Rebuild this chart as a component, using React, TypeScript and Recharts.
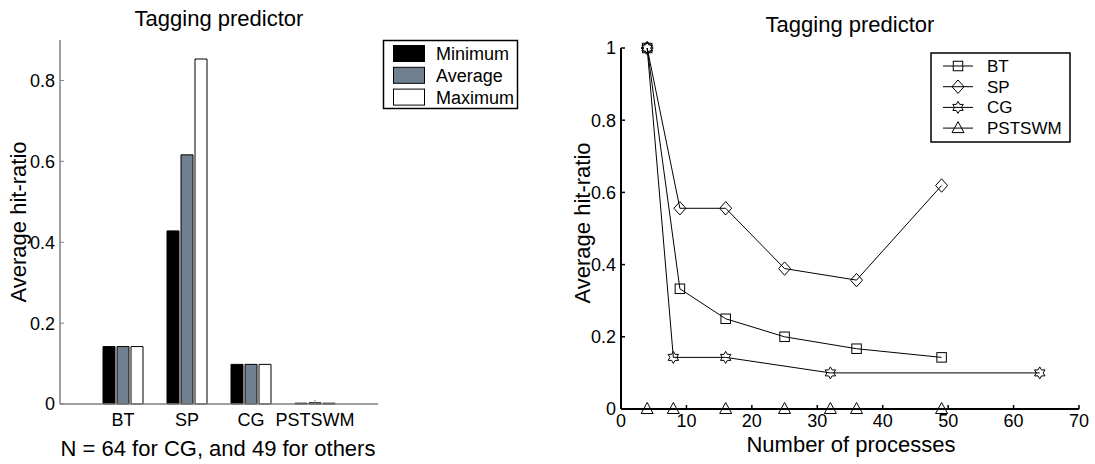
import React from 'react';
import { BarChart, Bar, XAxis, YAxis, LineChart, Line } from 'recharts';

// ---------- Left chart data (bar) ----------
const barCategories = ['BT', 'SP', 'CG', 'PSTSWM'];
const minimumValues = [0.142, 0.428, 0.098, 0.002];
const averageValues = [0.142, 0.616, 0.098, 0.003];
const maximumValues = [0.142, 0.853, 0.098, 0.002];
const barSeriesNames = ['Minimum', 'Average', 'Maximum'];
const barSeriesColors = ['#000000', '#708090', '#ffffff'];
const barYTicks = [0, 0.2, 0.4, 0.6, 0.8];

// ---------- Right chart data (lines) ----------
const btX = [4, 9, 16, 25, 36, 49];
const btY = [1, 0.333, 0.25, 0.2, 0.167, 0.143];
const spX = [4, 9, 16, 25, 36, 49];
const spY = [1, 0.556, 0.556, 0.389, 0.357, 0.619];
const cgX = [4, 8, 16, 32, 64];
const cgY = [1, 0.143, 0.143, 0.1, 0.1];
const pstX = [4, 8, 16, 25, 32, 36, 49];
const pstY = [0, 0, 0, 0, 0, 0, 0];
const lineSeriesNames = ['BT', 'SP', 'CG', 'PSTSWM'];
const lineSeriesShapes = ['square', 'diamond', 'hexagram', 'triangle'];
const lineXTicks = [0, 10, 20, 30, 40, 50, 60, 70];
const lineYTicks = [0, 0.2, 0.4, 0.6, 0.8, 1];

const titleText = 'Tagging predictor';
const yLabelText = 'Average hit-ratio';
const leftXLabelText = 'N = 64 for CG, and 49 for others';
const rightXLabelText = 'Number of processes';

const barData = barCategories.map((name, i) => ({
  name,
  min: minimumValues[i],
  avg: averageValues[i],
  max: maximumValues[i],
}));
const zip = (xs: number[], ys: number[]) => xs.map((x, i) => ({ x, y: ys[i] }));
const lineData = [zip(btX, btY), zip(spX, spY), zip(cgX, cgY), zip(pstX, pstY)];

const FONT = "'Liberation Sans', Arial, Helvetica, sans-serif";
const TICK_FS = 18;

const fmt = (v: number) => (v === 0 ? '0' : v === 1 ? '1' : v.toFixed(1));

function Marker({ shape, cx, cy }: { shape: string; cx: number; cy: number }) {
  const common = { fill: 'none', stroke: '#000', strokeWidth: 1 };
  if (shape === 'square') {
    return <rect x={cx - 4.75} y={cy - 4.75} width={9.5} height={9.5} {...common} />;
  }
  if (shape === 'diamond') {
    const pts = `${cx},${cy - 6.7} ${cx + 6},${cy} ${cx},${cy + 6.7} ${cx - 6},${cy}`;
    return <polygon points={pts} {...common} />;
  }
  if (shape === 'hexagram') {
    const ro = 6;
    const ri = ro / Math.sqrt(3);
    const pts: string[] = [];
    for (let k = 0; k < 12; k++) {
      const a = ((-90 + 30 * k) * Math.PI) / 180;
      const r = k % 2 === 0 ? ro : ri;
      pts.push(`${cx + r * Math.cos(a)},${cy + r * Math.sin(a)}`);
    }
    return <polygon points={pts.join(' ')} {...common} />;
  }
  const pts = `${cx},${cy - 6.5} ${cx + 6},${cy + 4.5} ${cx - 6},${cy + 4.5}`;
  return <polygon points={pts} {...common} />;
}

const makeDot = (shape: string, name: string) => (props: any) => {
  const { cx, cy, index } = props;
  return (
    <g key={`${name}-${index}`}>
      <Marker shape={shape} cx={cx} cy={cy} />
    </g>
  );
};

const tickStyle = { fill: '#000', fontSize: TICK_FS, fontFamily: FONT };

export default function App() {
  return (
    <div
      style={{
        position: 'absolute',
        left: 0,
        top: 0,
        width: 1095,
        height: 464,
        background: '#fff',
        fontFamily: FONT,
        overflow: 'hidden',
      }}
    >
      <div style={{ position: 'absolute', left: 0, top: 0 }}>
        <BarChart
          width={540}
          height={464}
          data={barData}
          margin={{ top: 40, right: 162, bottom: 30, left: 0 }}
          barSize={12}
          barGap={2}
          style={{ fontFamily: FONT }}
        >
          <XAxis
            dataKey="name"
            height={30}
            interval={0}
            padding={{ left: 31, right: 31 }}
            axisLine={{ stroke: '#808080', strokeWidth: 1.5 }}
            tickLine={{ stroke: '#808080' }}
            tickSize={-4}
            tickMargin={13}
            fontSize={TICK_FS}
            tick={tickStyle}
          />
          <YAxis
            width={60}
            domain={[0, 0.9]}
            ticks={barYTicks}
            axisLine={{ stroke: '#808080', strokeWidth: 1.5 }}
            tickLine={{ stroke: '#808080' }}
            tickSize={-4}
            tickMargin={9}
            tickFormatter={fmt}
            fontSize={TICK_FS}
            tick={tickStyle}
          />
          <Bar dataKey="min" name={barSeriesNames[0]} fill={barSeriesColors[0]} stroke="#000" strokeWidth={1} isAnimationActive={false} />
          <Bar dataKey="avg" name={barSeriesNames[1]} fill={barSeriesColors[1]} stroke="#000" strokeWidth={1} isAnimationActive={false} />
          <Bar dataKey="max" name={barSeriesNames[2]} fill={barSeriesColors[2]} stroke="#000" strokeWidth={1} isAnimationActive={false} />
        </BarChart>
      </div>

      <div style={{ position: 'absolute', left: 560, top: 0 }}>
        <LineChart width={535} height={464} margin={{ top: 48, right: 16, bottom: 25, left: 0 }} style={{ fontFamily: FONT }}>
          <XAxis
            type="number"
            dataKey="x"
            domain={[0, 70]}
            ticks={lineXTicks}
            height={30}
            axisLine={{ stroke: '#000', strokeWidth: 2 }}
            tickLine={{ stroke: '#000', strokeWidth: 1.5 }}
            tickSize={-4}
            tickMargin={9}
            fontSize={TICK_FS}
            tick={tickStyle}
          />
          <YAxis
            type="number"
            width={61}
            domain={[0, 1]}
            ticks={lineYTicks}
            axisLine={{ stroke: '#000', strokeWidth: 2 }}
            tickLine={{ stroke: '#000', strokeWidth: 1.5 }}
            tickSize={-4}
            tickMargin={9}
            tickFormatter={fmt}
            fontSize={TICK_FS}
            tick={tickStyle}
          />
          {lineData.map((d, i) => (
            <Line
              key={lineSeriesNames[i]}
              data={d}
              dataKey="y"
              name={lineSeriesNames[i]}
              type="linear"
              stroke="#000"
              strokeWidth={1}
              dot={makeDot(lineSeriesShapes[i], lineSeriesNames[i])}
              activeDot={false}
              isAnimationActive={false}
            />
          ))}
        </LineChart>
      </div>

      <svg
        width={1095}
        height={464}
        style={{ position: 'absolute', left: 0, top: 0, pointerEvents: 'none', fontFamily: FONT }}
      >
        {/* Left chart texts */}
        <text x={219} y={26} textAnchor="middle" fontSize={22} fill="#000">{titleText}</text>
        <text x={218} y={456} textAnchor="middle" fontSize={22} fill="#000">{leftXLabelText}</text>
        <text transform="translate(26,222) rotate(-90)" textAnchor="middle" fontSize={22} fill="#000">{yLabelText}</text>

        {/* Left legend */}
        <rect x={383.5} y={40.5} width={134} height={68} fill="#fff" stroke="#000" strokeWidth={1.5} />
        {barSeriesNames.map((n, i) => (
          <g key={n}>
            <rect x={393.5} y={45.5 + i * 21.8} width={31} height={16} fill={barSeriesColors[i]} stroke="#000" strokeWidth={1} />
            <text x={436} y={60 + i * 21.8} fontSize={18} fill="#000">{n}</text>
          </g>
        ))}

        {/* Right chart texts */}
        <text x={850} y={32} textAnchor="middle" fontSize={22} fill="#000">{titleText}</text>
        <text x={851} y={452} textAnchor="middle" fontSize={22} fill="#000">{rightXLabelText}</text>
        <text transform="translate(590,223) rotate(-90)" textAnchor="middle" fontSize={22} fill="#000">{yLabelText}</text>

        {/* Right legend */}
        <rect x={931} y={53} width={139} height={89} fill="#fff" stroke="#000" strokeWidth={1.5} />
        {lineSeriesNames.map((n, i) => {
          const cy = 66 + i * 20.7;
          return (
            <g key={n}>
              <line x1={943} x2={973} y1={cy} y2={cy} stroke="#000" strokeWidth={1} />
              <Marker shape={lineSeriesShapes[i]} cx={958} cy={cy} />
              <text x={987} y={cy + 6} fontSize={17} fill="#000">{n}</text>
            </g>
          );
        })}
      </svg>
    </div>
  );
}
